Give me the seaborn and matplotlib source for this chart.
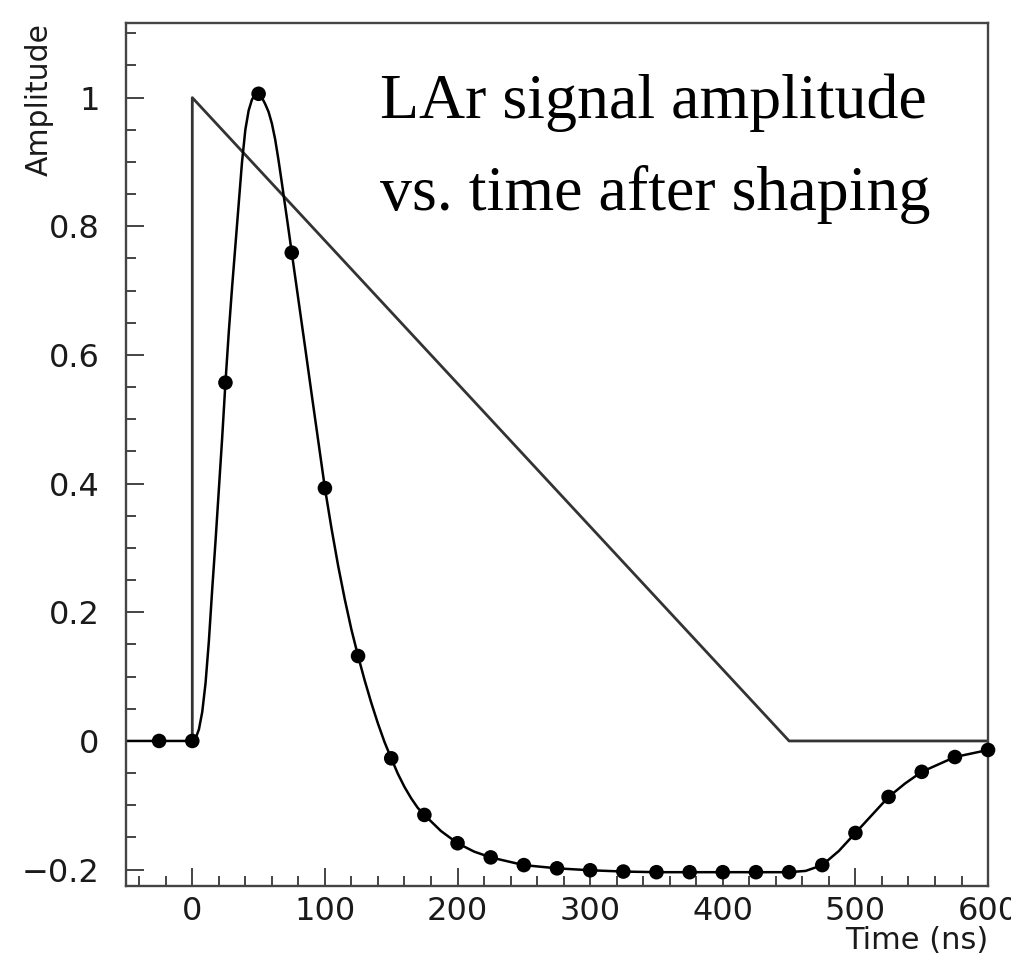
import matplotlib
matplotlib.use("Agg")
import matplotlib.pyplot as plt
import matplotlib.ticker as mticker
import seaborn as sns

# shaped LAr pulse (time in ns)
curve_t = [-50, -25, 0,
           2.5, 5, 7.5, 10, 12.5, 15, 17.5, 20, 22.5, 25,
           27.5, 30, 32.5, 35, 37.5, 40, 42.5, 45, 47.5, 50,
           52.5, 55, 57.5, 60, 62.5, 65, 67.5, 70, 72.5, 75,
           80, 85, 90, 95, 100, 105, 110, 115, 120, 125,
           130, 135, 140, 145, 150, 155, 160, 165, 170, 175,
           187.5, 200, 212.5, 225,
           250, 275, 300, 325, 350, 375, 400, 425, 450,
           462.5, 475, 487.5, 500, 512.5, 525, 537.5, 550,
           575, 600]
curve_amp = [0, 0, 0,
             0.004, 0.018, 0.045, 0.09, 0.155, 0.235, 0.31, 0.39, 0.47, 0.557,
             0.635, 0.705, 0.77, 0.835, 0.9, 0.95, 0.98, 0.997, 1.005, 1.006,
             1.0, 0.99, 0.978, 0.96, 0.935, 0.903, 0.868, 0.832, 0.796, 0.759,
             0.686, 0.613, 0.539, 0.466, 0.393, 0.33, 0.272, 0.22, 0.173, 0.132,
             0.094, 0.059, 0.027, -0.002, -0.027, -0.051, -0.0715, -0.089, -0.104, -0.115,
             -0.14, -0.159, -0.172, -0.181,
             -0.193, -0.198, -0.201, -0.203, -0.204, -0.204, -0.204, -0.204, -0.204,
             -0.202, -0.193, -0.171, -0.143, -0.115, -0.087, -0.066, -0.048,
             -0.025, -0.014]

# samples every 25 ns
sample_t = [-25, 0, 25, 50, 75, 100, 125, 150, 175, 200, 225, 250, 275,
            300, 325, 350, 375, 400, 425, 450, 475, 500, 525, 550, 575, 600]
sample_amp = [0, 0, 0.557, 1.006, 0.759, 0.393, 0.132, -0.027, -0.115, -0.159,
              -0.181, -0.193, -0.198, -0.201, -0.203, -0.204, -0.204, -0.204,
              -0.204, -0.204, -0.193, -0.143, -0.087, -0.048, -0.025, -0.014]

# triangular ionisation current before shaping
tri_t = [0, 0, 450, 600]
tri_amp = [0, 1, 0, 0]

sns.set_style("ticks")
plt.rcParams['font.family'] = ['DejaVu Sans']

fig = plt.figure(figsize=(10.11, 9.59), dpi=100, facecolor='white')
ax = fig.add_axes([0.1246, 0.0761, 0.8527, 0.8999])

sns.lineplot(x=tri_t, y=tri_amp, ax=ax, sort=False, estimator=None,
             color='#333333', linewidth=2.0)
sns.lineplot(x=curve_t, y=curve_amp, ax=ax, sort=False, estimator=None,
             color='black', linewidth=1.8)
sns.scatterplot(x=sample_t, y=sample_amp, ax=ax, color='black', s=110,
                edgecolor='none', zorder=5, clip_on=False)

ax.set_xlim(-50, 600)
ax.set_ylim(-0.2255, 1.116)

ax.xaxis.set_major_locator(mticker.MultipleLocator(100))
ax.xaxis.set_minor_locator(mticker.MultipleLocator(20))
ax.yaxis.set_major_locator(mticker.MultipleLocator(0.2))
ax.yaxis.set_minor_locator(mticker.MultipleLocator(0.05))
fmt = mticker.FuncFormatter(lambda v, p: f'{v:g}'.replace('-', '\u2212'))
ax.xaxis.set_major_formatter(fmt)
ax.yaxis.set_major_formatter(fmt)

ax.tick_params(which='both', direction='in', color='#444444', width=1.4,
               top=False, right=False)
ax.tick_params(which='major', length=13, labelsize=23, labelcolor='#1a1a1a')
ax.tick_params(which='minor', length=7)
ax.tick_params(axis='y', which='major', pad=19)
ax.tick_params(axis='x', which='major', pad=7)

for sp in ax.spines.values():
    sp.set_color('#444444')
    sp.set_linewidth(1.7)

ax.set_ylabel('Amplitude', loc='top', fontsize=21.5, color='#1a1a1a')
ax.yaxis.set_label_coords(-0.084, 1.0)
ax.set_xlabel('Time (ns)', loc='right', fontsize=22, color='#1a1a1a')
ax.xaxis.set_label_coords(1.0, -0.046)
ax.xaxis.label.set_va('top')

ax.text(0.2947, 0.942, 'LAr signal amplitude\nvs. time after shaping',
        transform=ax.transAxes, ha='left', va='top', fontsize=46,
        family='Liberation Serif', linespacing=1.74, color='black')

fig.savefig('out.png', dpi=100, facecolor='white')
